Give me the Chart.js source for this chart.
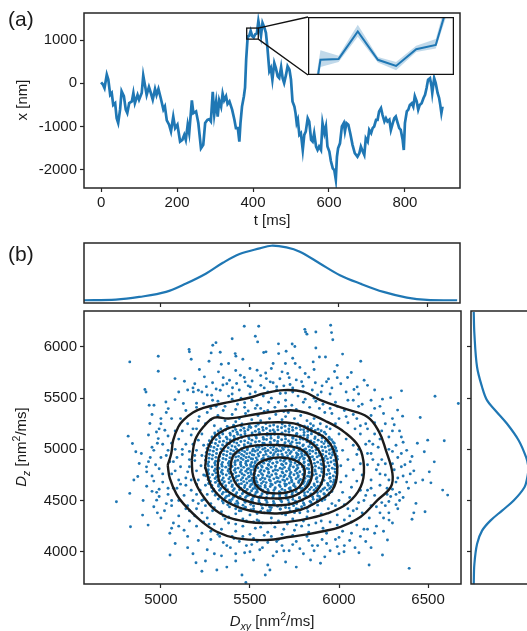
<!DOCTYPE html>
<html><head><meta charset="utf-8">
<script src="https://cdn.jsdelivr.net/npm/chart.js@4/dist/chart.umd.min.js"></script>
<style>
html,body{margin:0;padding:0;background:#fff;width:527px;height:631px;overflow:hidden;position:relative;font-family:'Liberation Sans',Arial,sans-serif;color:#1a1a1a}
canvas{position:absolute}
.lbl{position:absolute;font-size:15px;white-space:nowrap;line-height:1}
.rot{transform:translate(-50%,-50%) rotate(-90deg)}
.ctr{transform:translate(-50%,-50%)}
sub,sup{font-size:70%;line-height:0}
</style></head><body>
<canvas id="ca" style="left:0px;top:0px" width="527" height="230"></canvas>
<canvas id="ci" style="left:308px;top:17px;background:#fff" width="146" height="58"></canvas>
<canvas id="ctop" style="left:0px;top:230px" width="527" height="80"></canvas>
<canvas id="cmain" style="left:0px;top:298px" width="527" height="333"></canvas>
<canvas id="cright" style="left:462px;top:305px" width="65" height="290"></canvas>
<div class="lbl" style="left:8px;top:8px;font-size:21px">(a)</div>
<div class="lbl rot" style="left:21px;top:100px">x [nm]</div>
<div class="lbl ctr" style="left:272px;top:219px">t [ms]</div>
<div class="lbl" style="left:8px;top:243px;font-size:21px">(b)</div>
<div class="lbl rot" style="left:20px;top:447px"><i>D</i><sub><i>z</i></sub> [nm<sup>2</sup>/ms]</div>
<div class="lbl ctr" style="left:272px;top:620px"><i>D</i><sub><i>xy</i></sub> [nm<sup>2</sup>/ms]</div>
<script>
// ---------- panel (a): trajectory ----------
const traceT = [0,5,9,15,19,24,28,32,37,41, 45,50,54,60,65,69,74,81,85,89,
 96,100,107,111,116,120,126,131,136,142, 146,151,157,164,168,173,179,184,190,195,
 201,208,214,219,223,228,232,239,243,250, 256,263,269,274,280,285,289,294,298,303,
 307,311,316,320,324,329,333,338,345,351, 355,360,364,367,371,376,379,382,386,389.8,
 393.8,398,401.8,406,410.1,414.1,418,421,425,430, 434,438,443,447,451,456,460,465,469,474,
 478,482,487,491,496,500,504,509,512,515, 518,522,526,531,535,539,544,548,553,557,
 561,566,570,574,579,583,588,592,596,601, 605,610,614,618,621,624,629,634,639,642,
 646,651,656,662,668,675,680,684,689,693, 697,702,706,711,715,719,724,728,732,737,
 741,746,750,754,759,763,768,772,776,781, 785,789,794,797,800,805,809,813,818,822,
 826,831,835,839,844,849,853,857,861,866, 870,872,877,881,886,890,893,896,899];
const traceX = [23,-30,-110,200,85,-265,-225,-500,-460,-810, -920,-610,-185,-300,-610,-690,-460,-420,-225,-460,
 -270,-380,-225,180,-70,-270,-85,-225,-380,-130, -270,-130,-340,-610,-540,-860,-960,-1115,-770,-1040,
 -960,-1350,-1310,-1195,-1310,-960,-1155,-395,-690,-650, -920,-1505,-1425,-920,-845,-830,-880,-200,-730,-420,
 -770,-395,-540,-240,-395,-300,-480,-420,-610,-845, -1040,-1040,-1350,-920,-540,-300,-100,554,1090,1094,
 1215,1090,1063,1137,1156,1444,1250,1100,1400,1290, 1170,820,280,355,85,470,355,160,120,375,
 120,5,200,395,315,85,-420,-540,-690,-920, -845,-1195,-1155,-1545,-1195,-1115,-810,-885,-1310,-1350,
 -1155,-1465,-1545,-1465,-1545,-920,-1155,-1000,-1465,-1580, -1800,-1970,-2010,-2230,-1700,-1505,-1390,-1000,-920,-1115,
 -920,-960,-1155,-1425,-1620,-1700,-1620,-1465,-1580,-1660, -1275,-1350,-1080,-1155,-1040,-1000,-845,-845,-650,-575,
 -730,-885,-810,-885,-845,-1080,-920,-810,-770,-920, -1040,-1080,-1310,-1545,-920,-650,-610,-500,-460,-540,
 -300,-420,-610,-500,-460,-340,-265,-110,85,120, -70,-225,120,5,-225,-340,-500,-690,-540];
const ticksT = [0,200,400,600,800];
const ticksXnm = [-2000,-1000,0,1000];
// inset (zoomed window of the trajectory, with confidence band)
const insetT  = [382,386.0,389.8,393.8,398.0,401.8,406.0,410.1,414.1];
const insetX  = [554,1090,1094,1215,1090,1063,1137,1156,1444];
const insetLo = [500,1058,1080,1192,1078,1044,1124,1140,1400];
const insetHi = [600,1132,1108,1245,1102,1080,1152,1182,1490];
const insetWinT = [383.4,413.9];
const insetWinX = [1023,1279];

// ---------- panel (b): marginal densities ----------
const kdeDxyGrid = [4559,4748,4879,5030,5143,5256,5350,5444,5557,5623,5708,5783,5896,6009,6122,6254,6386,6499,6669];
const kdeDxyVal  = [0,0.012,0.061,0.153,0.307,0.491,0.687,0.847,0.951,1.0,0.969,0.89,0.675,0.46,0.307,0.153,0.049,0.006,0];
const kdeDzGrid = [6342,6130,5804,5609,5478,5380,5250,5087,4924,4850,4793,4720,4630,4500,4402,4304,4206,4076,3880,3684];
const kdeDzVal  = [0,0.012,0.061,0.153,0.245,0.397,0.611,0.825,0.96,0.995,1.0,0.98,0.93,0.733,0.52,0.306,0.153,0.061,0.012,0];
const ticksDxy = [5000,5500,6000,6500];
const ticksDz = [4000,4500,5000,5500,6000];

// density contour lines (closed)
const contour1 = [[5038,4846],[5058,4960],[5069,5090],[5098,5220],[5126,5285],[5180,5360],[5239,5405],[5389,5464],[5502,5506],[5577,5545],[5690,5578],[5802,5561],[5896,5480],[6028,5399],[6160,5317],[6225,5171],[6263,4992],[6300,4765],[6291,4634],[6216,4504],[6122,4341],[6009,4244],[5896,4195],[5821,4170],[5727,4146],[5596,4114],[5427,4130],[5314,4195],[5220,4309],[5126,4470],[5088,4560],[5050,4716]];
const contour2 = [[5173,4895],[5192,5090],[5239,5220],[5300,5310],[5380,5301],[5558,5350],[5727,5382],[5820,5355],[5934,5268],[6028,5171],[6112,5024],[6140,4829],[6122,4634],[6047,4472],[5934,4374],[5784,4309],[5652,4283],[5483,4293],[5333,4374],[5239,4537],[5182,4732]];
const contour3 = [[5248,4829],[5267,5024],[5323,5155],[5445,5236],[5596,5262],[5746,5253],[5840,5187],[5934,5090],[5981,4927],[5990,4765],[5962,4602],[5878,4488],[5784,4410],[5652,4374],[5502,4400],[5370,4488],[5286,4634]];
const contour4 = [[5317,4813],[5333,4960],[5408,5090],[5558,5146],[5727,5139],[5821,5090],[5896,4960],[5915,4765],[5878,4602],[5784,4500],[5690,4456],[5539,4470],[5408,4553],[5333,4667]];
const contour5 = [[5389,4797],[5408,4943],[5483,5024],[5633,5043],[5770,5012],[5830,4927],[5849,4765],[5821,4634],[5740,4540],[5633,4521],[5520,4545],[5427,4651]];
const contour6 = [[5520,4732],[5540,4850],[5600,4905],[5670,4921],[5750,4895],[5800,4830],[5806,4750],[5780,4640],[5720,4585],[5652,4570],[5575,4590],[5530,4660]];

// scattered (Dxy, Dz) estimates
const scatterOuter = [[5468,6202],[5549,6202],[4985,5909],[4985,5763],[5158,5975],[5160,5952],[5291,6017],[5309,6042],[5282,5942],[5333,5948],[5417,5935],[5421,5910],[5339,5831],[5380,5838],[5530,6104],[5543,6049],[5577,5945],[5590,5952],[5661,5935],[5703,5958],[5737,6029],[5752,6005],[5808,6172],[5820,6125],[5699,5838],[5754,5838],[5630,5838],[5680,5757],[5712,5740],[5216,5779],[5079,5691],[5132,5665],[5244,5708],[5323,5757],[5385,5675],[5446,5724],[5473,5659],[5502,5610],[5540,5773],[5592,5691],[5614,5659],[4961,5430],[5028,5463],[5079,5486],[5126,5447],[5182,5561],[5210,5577],[5285,5528],[5333,5577],[5041,5398],[5060,5300],[5022,5186],[4975,5170],[4985,5105],
[4825,5854],[4910,5584],[4916,5560],[4934,5431],[4938,5253],[4816,5129],[4840,5057],[4859,4976],[4890,4960],[4878,4862],[4848,4700],[4870,4735],[4919,4829],[4750,4488],[4825,4570],[4900,4500],[4897,4358],[4829,4244],[4928,4260],[4976,4504],[4976,4580],[5051,3968],[5197,3893],[5230,3810],[5314,3821],[5370,3850],[5455,3773],[5477,3700],[5586,3773],[5612,3822],[5340,3960],[5420,3910],
[5953,6212],[5958,6140],[5965,6070],[5812,6146],[5870,6146],[5924,5902],[5890,5902],[5855,5854],[6122,5860],[6069,5750],[6141,5675],[6084,5584],[6244,5490],[6290,5505],[6351,5571],[6357,5324],[6329,5383],[6456,5311],[6539,5519],[6670,5448],[6498,5090],[6591,5084],[6440,5060],[6479,4976],[6535,4878],[6507,4780],[6516,4673],[6430,4673],[6470,4700],[6582,4602],[6610,4553],[6432,4472],[6483,4390],[6420,4380],[6410,4318],[6340,4500],[6281,4309],[6272,4114],[6244,3968],[6169,3870],[6394,3838],[6112,3990],[6028,4000],[5990,4050],[5896,3887],[5840,3920],
[5255,5612],[5290,5650],[5348,5628],[5402,5601],[5425,5643],[5468,5702],[5512,5668],[5561,5625],[5588,5745],[5650,5612],[5668,5690],[5725,5633],[5760,5678],[5798,5616],[5830,5705],[5867,5651],[5905,5620],[5941,5688],[5975,5760],[6010,5640],[6048,5702],[6102,5610],[6160,5625],[6200,5580],[5780,5800],[5860,5780],[5990,5820],[5620,5790],[5500,5790],[5420,5770],[5190,5640],[5150,5580],[5100,5560],[5270,5860],[5460,5880],[5870,5990],[6020,5930],[5740,5890],[5660,6030],[5400,6080],[5170,5880],
[5080,4080],[5150,4040],[5210,4110],[5260,4020],[5300,3980],[5350,4090],[5390,4040],[5440,4100],[5470,3990],[5510,4070],[5555,4020],[5600,4090],[5630,3960],[5680,4060],[5720,4010],[5760,4100],[5800,3980],[5850,4060],[5905,4120],[5950,4010],[6060,4110],[6120,4150],[6180,4040],[5700,3900],[5520,3920],[5600,3870],[5760,3850],[5920,3950],[5250,3910],[5180,3980],
[4950,5340],[5000,5250],[4930,5140],[5010,5050],[4960,4990],[5000,4920],[4930,4880],[4990,4810],[4950,4740],[5010,4680],[4920,4640],[4990,4610],[5040,4560],[4960,4440],[5020,4400],[5060,4450],[5000,4330],[5070,4280],[5100,4350],[5130,4210],[5050,4180],[5160,4300],
[6260,5250],[6300,5180],[6350,5120],[6320,5040],[6380,4990],[6330,4920],[6400,4880],[6350,4830],[6420,4790],[6360,4740],[6320,4680],[6390,4620],[6340,4580],[6290,4540],[6260,4450],[6330,4420],[6230,4380],[6210,4250],[6250,4200],[6160,4220],[6300,5300],[6200,5400],[6250,5350]];
const scatterFringe = [[5180,5600],[5230,5560],[5310,5590],[5370,5640],[5440,5580],[5490,5620],[5530,5560],[5580,5600],[5630,5650],[5690,5620],[5740,5600],[5790,5660],[5850,5580],[5900,5560],[5960,5600],[6040,5560],[6080,5480],[6130,5440],[6180,5480],[6230,5420],[5350,5700],[5560,5720],[5810,5740],[5990,5700],[6110,5540],[5260,5530],[5400,5540],[5650,5580],[5720,5700],[5930,5660],
[5030,5360],[4990,5200],[5040,5130],[4980,5060],[5030,4940],[4970,4850],[5010,4760],[4960,4690],[5040,4620],[4990,4540],[5060,4500],[5030,4470],[4950,4590],[4920,4780],[4940,4920],[5000,5300],[4980,4380],[5100,4250],[5060,4230],[4950,5020],
[5150,4150],[5230,4180],[5280,4120],[5330,4150],[5370,4060],[5410,4130],[5480,4060],[5540,4100],[5570,4040],[5650,4100],[5690,4010],[5740,4070],[5780,4030],[5830,4110],[5880,4060],[5930,4080],[5980,4120],[6030,4060],[6090,4040],[6150,4100],[5500,4000],[5650,4000],[5860,4010],[5420,3980],[6000,3980],
[6310,5240],[6280,5120],[6360,5070],[6300,4980],[6350,4960],[6370,4850],[6310,4800],[6400,4760],[6330,4720],[6380,4680],[6300,4610],[6360,4530],[6280,4490],[6320,4460],[6250,4330],[6300,4280],[6200,4180],[6410,4930],[6270,4560],[6340,5180]];
const scatterMid = [[5200,5410],[5240,5445],[5280,5400],[5320,5470],[5360,5420],[5400,5490],[5430,5440],[5470,5410],[5510,5480],[5540,5430],[5575,5520],[5605,5460],[5640,5410],[5670,5545],[5700,5480],[5735,5430],[5770,5520],[5800,5460],[5835,5410],[5870,5470],[5910,5440],[5950,5400],[5990,5420],[6030,5380],[6080,5340],[5450,5500],[5620,5500],[5740,5560],[5860,5500],[5350,5380],[5560,5400],[5700,5420],[5920,5360],[6000,5300],[6100,5300],[6150,5250],
[5110,5300],[5150,5250],[5120,5180],[5170,5140],[5100,5100],[5140,5050],[5080,5000],[5120,4950],[5160,4900],[5070,4880],[5110,4830],[5150,4780],[5060,4760],[5100,4700],[5140,4650],[5170,4600],[5090,4620],[5130,4550],[5180,4500],[5150,4450],[5200,4420],[5230,4380],[5190,4350],[5260,4330],[5160,4980],[5180,5200],[5140,4720],[5210,4470],
[5300,4270],[5340,4220],[5380,4280],[5420,4200],[5460,4250],[5500,4170],[5530,4230],[5570,4280],[5600,4190],[5640,4240],[5680,4170],[5710,4270],[5750,4210],[5790,4250],[5830,4190],[5870,4280],[5910,4230],[5950,4290],[5990,4260],[6030,4310],[6070,4290],[5460,4150],[5620,4150],[5800,4300],[5360,4320],[5270,4270],[5550,4300],
[6160,5200],[6200,5150],[6170,5080],[6220,5020],[6180,4960],[6240,4900],[6160,4850],[6210,4800],[6260,4750],[6180,4700],[6230,4650],[6160,4600],[6200,4550],[6140,4500],[6180,4450],[6100,4420],[6130,4380],[6060,4350],[6240,4480],[6260,4860],[6200,5260],[6090,5200],[6080,4400],[6160,4960],[6230,5100],
[5280,5290],[5320,5330],[5360,5280],[5400,5340],[5440,5300],[5475,5350],[5510,5290],[5545,5330],[5580,5370],[5610,5300],[5645,5340],[5680,5290],[5715,5360],[5750,5300],[5785,5330],[5820,5280],[5860,5300],[5895,5250],[5930,5220],[5420,5270],[5560,5280],[5700,5320],[5840,5250],[5250,5250],[5300,5230],[5600,5380],[5490,5375],
[5200,5200],[5230,5150],[5210,5090],[5240,5040],[5200,4990],[5230,4940],[5190,4890],[5225,4840],[5200,4790],[5240,4750],[5210,4700],[5250,4650],[5220,4600],[5260,4560],[5240,4510],[5280,4470],[5300,4430],[5250,4450],[5200,4660],[5190,4940],
[5340,4390],[5380,4340],[5420,4370],[5460,4320],[5500,4360],[5540,4310],[5580,4380],[5620,4330],[5660,4300],[5700,4360],[5740,4320],[5780,4380],[5820,4340],[5860,4400],[5900,4370],[5940,4420],[5980,4450],[5440,4400],[5600,4400],[5760,4420],[5520,4290],
[6000,5150],[6040,5100],[6080,5040],[6020,4990],[6100,4950],[6050,4900],[6120,4860],[6010,4840],[6080,4800],[6130,4750],[6040,4740],[6100,4690],[6010,4680],[6070,4630],[6120,4600],[6020,4580],[6060,4530],[6000,4500],[6030,4460],[5950,5200],[5980,5250],[6110,5000],[5960,4470],
[5215,5320],[5260,5360],[5310,5420],[5420,5390],[5470,5455],[5530,5400],[5660,5460],[5690,5370],[5760,5390],[5810,5490],[5890,5400],[5960,5350],[6050,5260],[6120,5150],[6150,5050],[6190,4900],[6230,4760],[6180,4620],[6150,4550],[6110,4480],[6050,4420],[5990,4360],[5900,4300],[5830,4260],[5760,4260],[5690,4220],[5620,4280],[5560,4240],[5480,4300],[5420,4270],[5350,4350],[5290,4400],[5230,4500],[5200,4560],[5170,4700],[5160,4830],[5180,5050],[5210,5280],[5120,5000],[5090,4920],[5080,4790],[5110,4660],[5160,4400],[5240,4290],[5320,4170],[5400,4150],[5520,4130],[5580,4160],[5660,4120],[5740,4160],[5820,4150],[5930,4180],[6020,4200],[6100,4260],[6170,4330],[6210,4440],[6270,4620],[6280,4700],[6220,4850],[6190,5050],[6120,5230],[6040,5320],[5980,5460],[5880,5530],[5800,5560],[5700,5550],[5600,5560],[5500,5540],[5380,5520],[5290,5480],[5200,5450],[5140,5380],[5080,5180],[5060,5060],[5040,4990],[5050,4880],[5070,4620],[5100,4500],[5140,4420],[5200,4250],[5280,4200],[6000,4140],[6070,4180],[6140,4220],[6280,4380],[6320,4560],[6300,4860],[6280,5000],[6240,5180],[6180,5330],[6110,5420],[6050,5480],[5950,5540]];
const scatterCore = [[5408,5236],[5455,5248],[5497,5231],[5546,5244],[5589,5252],[5633,5238],[5681,5247],[5722,5233],[5768,5250],[5806,5226],
[5336,5198],[5381,5209],[5420,5193],[5466,5206],[5505,5213],[5549,5195],[5592,5204],[5631,5190],[5677,5211],[5718,5199],[5760,5207],[5801,5192],[5845,5203],[5882,5196],
[5302,5160],[5344,5171],[5388,5157],[5427,5168],[5471,5175],[5512,5159],[5553,5166],[5597,5154],[5638,5170],[5680,5161],[5719,5172],[5763,5156],[5804,5165],[5846,5174],[5888,5158],[5918,5167],
[5287,5121],[5326,5133],[5367,5118],[5410,5129],[5449,5137],[5492,5120],[5533,5128],[5574,5116],[5617,5134],[5659,5124],[5698,5131],[5741,5119],[5783,5129],[5825,5136],[5866,5121],[5907,5130],[5944,5119],
[5272,5084],[5310,5095],[5351,5080],[5389,5092],[5431,5099],[5470,5083],[5511,5090],[5552,5078],[5593,5096],[5637,5086],[5678,5093],[5717,5081],[5759,5092],[5799,5099],[5842,5082],[5883,5090],[5924,5079],[5958,5094],
[5265,5046],[5306,5057],[5346,5043],[5385,5055],[5426,5061],[5468,5045],[5505,5052],[5543,5040],[5580,5058],[5617,5048],[5654,5055],[5690,5043],[5727,5054],[5763,5061],[5800,5044],[5838,5052],[5876,5041],[5915,5056],[5952,5047],[5973,5059],
[5259,5008],[5298,5019],[5337,5005],[5378,5016],[5417,5023],[5452,5007],[5486,5014],[5518,5002],[5551,5020],[5584,5010],[5616,5017],[5649,5005],[5682,5016],[5714,5023],[5747,5006],[5780,5014],[5813,5003],[5847,5018],[5884,5009],[5922,5020],[5959,5004],[5982,5013],
[5255,4970],[5294,4981],[5334,4967],[5372,4978],[5408,4985],[5440,4969],[5470,4976],[5500,4964],[5529,4982],[5558,4972],[5587,4979],[5616,4967],[5645,4978],[5674,4985],[5703,4968],[5732,4976],[5761,4965],[5790,4980],[5820,4971],[5852,4982],[5890,4966],[5928,4977],[5965,4970],[5987,4984],
[5252,4932],[5290,4943],[5330,4929],[5369,4940],[5404,4947],[5436,4931],[5465,4938],[5494,4926],[5522,4944],[5549,4934],[5576,4941],[5603,4929],[5630,4940],[5657,4947],[5684,4930],[5711,4938],[5738,4927],[5765,4942],[5792,4933],[5820,4944],[5851,4928],[5888,4939],[5926,4933],[5963,4945],[5989,4930],
[5250,4894],[5288,4905],[5327,4891],[5365,4902],[5400,4909],[5432,4893],[5461,4900],[5489,4888],[5515,4906],[5541,4896],[5567,4903],[5593,4891],[5619,4902],[5645,4909],[5671,4892],[5697,4900],[5723,4889],[5749,4904],[5775,4895],[5801,4906],[5828,4890],[5860,4901],[5897,4895],[5935,4907],[5972,4892],[5991,4903],
[5263,4856],[5302,4867],[5341,4853],[5379,4864],[5415,4871],[5447,4855],[5476,4862],[5503,4850],[5528,4868],[5553,4858],[5578,4865],[5603,4853],[5628,4864],[5653,4871],[5678,4854],[5703,4862],[5728,4851],[5753,4866],[5778,4857],[5803,4868],[5830,4852],[5862,4863],[5899,4857],[5937,4869],[5975,4854],
[5249,4818],[5287,4829],[5326,4815],[5364,4826],[5400,4833],[5434,4817],[5465,4824],[5493,4812],[5519,4830],[5544,4820],[5569,4827],[5594,4815],[5619,4826],[5644,4833],[5669,4816],[5694,4824],[5719,4813],[5744,4828],[5769,4819],[5794,4830],[5820,4814],[5850,4825],[5887,4819],[5925,4831],[5962,4816],[5990,4828],
[5262,4780],[5300,4791],[5339,4777],[5377,4788],[5412,4795],[5445,4779],[5476,4786],[5504,4774],[5530,4792],[5555,4782],[5580,4789],[5605,4777],[5630,4788],[5655,4795],[5680,4778],[5705,4786],[5730,4775],[5755,4790],[5780,4781],[5805,4792],[5833,4776],[5866,4787],[5903,4781],[5941,4793],[5978,4778],
[5251,4742],[5290,4753],[5329,4739],[5367,4750],[5403,4757],[5437,4741],[5468,4748],[5496,4736],[5522,4754],[5547,4744],[5572,4751],[5597,4739],[5622,4750],[5647,4757],[5672,4740],[5697,4748],[5722,4737],[5747,4752],[5772,4743],[5797,4754],[5824,4738],[5856,4749],[5893,4743],[5931,4755],[5968,4740],
[5265,4704],[5304,4715],[5343,4701],[5381,4712],[5417,4719],[5450,4703],[5480,4710],[5508,4698],[5534,4716],[5559,4706],[5584,4713],[5609,4701],[5634,4712],[5659,4719],[5684,4702],[5709,4710],[5734,4699],[5759,4714],[5784,4705],[5809,4716],[5838,4700],[5872,4711],[5910,4705],[5948,4717],[5972,4702],
[5268,4666],[5306,4677],[5345,4663],[5383,4674],[5419,4681],[5452,4665],[5483,4672],[5512,4660],[5539,4678],[5565,4668],[5591,4675],[5617,4663],[5643,4674],[5669,4681],[5695,4664],[5721,4672],[5747,4661],[5773,4676],[5799,4667],[5826,4678],[5860,4662],[5898,4673],[5936,4667],[5970,4679],
[5284,4628],[5323,4639],[5361,4625],[5399,4636],[5435,4643],[5469,4627],[5500,4634],[5530,4622],[5558,4640],[5586,4630],[5614,4637],[5642,4625],[5670,4636],[5698,4643],[5726,4626],[5754,4634],[5782,4623],[5811,4638],[5845,4629],[5882,4640],[5920,4624],[5956,4635],
[5290,4590],[5329,4601],[5367,4587],[5405,4598],[5441,4605],[5476,4589],[5509,4596],[5541,4584],[5572,4602],[5603,4592],[5634,4599],[5665,4587],[5696,4598],[5727,4605],[5758,4588],[5790,4596],[5824,4585],[5860,4600],[5897,4591],[5934,4602],[5960,4588],
[5305,4552],[5344,4563],[5382,4549],[5420,4560],[5457,4567],[5493,4551],[5528,4558],[5562,4546],[5597,4564],[5632,4554],[5667,4561],[5702,4549],[5737,4560],[5772,4567],[5807,4550],[5843,4558],[5880,4547],[5917,4562],[5942,4553],
[5322,4514],[5361,4525],[5399,4511],[5437,4522],[5475,4529],[5513,4513],[5551,4520],[5589,4508],[5627,4526],[5665,4516],[5703,4523],[5741,4511],[5779,4522],[5817,4529],[5855,4512],[5893,4520],[5920,4509],
[5350,4476],[5391,4487],[5432,4473],[5473,4484],[5514,4491],[5555,4475],[5596,4482],[5637,4470],[5678,4488],[5719,4478],[5760,4485],[5801,4473],[5842,4484],[5880,4491],
[5385,4438],[5430,4449],[5475,4435],[5520,4446],[5565,4453],[5610,4437],[5655,4444],[5700,4432],[5745,4450],[5790,4440],[5835,4447],
[5450,4400],[5505,4411],[5560,4397],[5615,4408],[5670,4415],[5725,4399],[5780,4406],[5825,4394],
[5540,4374],[5610,4385],[5680,4371],[5750,4382],
[5545,4955],[5590,4951],[5635,4958],[5680,4953],[5725,4960],[5770,4950],
[5535,4917],[5575,4913],[5615,4920],[5655,4915],[5695,4922],[5735,4912],[5780,4919],
[5530,4879],[5570,4875],[5610,4882],[5650,4877],[5690,4884],[5730,4874],[5770,4881],[5805,4876],
[5525,4841],[5565,4837],[5605,4844],[5645,4839],[5685,4846],[5725,4836],[5765,4843],[5805,4838],
[5522,4803],[5562,4799],[5602,4806],[5642,4801],[5682,4808],[5722,4798],[5762,4805],[5802,4800],
[5525,4765],[5565,4761],[5605,4768],[5645,4763],[5685,4770],[5725,4760],[5765,4767],[5805,4762],
[5530,4727],[5570,4723],[5610,4730],[5650,4725],[5690,4732],[5730,4722],[5770,4729],[5805,4724],
[5535,4689],[5575,4685],[5615,4692],[5655,4687],[5695,4694],[5735,4684],[5775,4691],[5805,4686],
[5545,4651],[5585,4647],[5625,4654],[5665,4649],[5705,4656],[5745,4646],[5785,4653],
[5560,4613],[5600,4609],[5640,4616],[5680,4611],[5720,4618],[5760,4608]];
const scatterFill = [[5372,5224],[5413,5216],[5452,5228],[5494,5219],[5533,5225],[5571,5213],[5612,5229],[5655,5220],[5697,5226],[5739,5215],[5781,5223],[5824,5218],[5856,5230],
[5322,5180],[5363,5189],[5404,5178],[5448,5186],[5489,5192],[5530,5177],[5574,5187],[5613,5181],[5657,5190],[5699,5179],[5740,5186],[5784,5193],[5825,5176],[5866,5185],[5900,5181],
[5305,5142],[5347,5150],[5390,5139],[5431,5148],[5472,5153],[5513,5141],[5554,5149],[5596,5137],[5638,5146],[5679,5152],[5720,5140],[5762,5147],[5803,5138],[5845,5151],[5886,5143],[5926,5149],
[5290,5104],[5331,5112],[5372,5101],[5413,5109],[5454,5115],[5495,5103],[5536,5110],[5577,5099],[5618,5108],[5659,5114],[5700,5102],[5741,5109],[5782,5100],[5823,5113],[5864,5105],[5905,5111],[5946,5103],
[5285,5066],[5329,5074],[5370,5063],[5410,5071],[5449,5077],[5489,5065],[5531,5072],[5572,5061],[5614,5070],[5656,5076],[5697,5064],[5737,5071],[5778,5062],[5820,5075],[5860,5067],[5902,5073],[5940,5065],[5966,5072],
[5280,5028],[5320,5036],[5359,5025],[5399,5033],[5437,5039],[5470,5027],[5502,5034],[5535,5023],[5568,5032],[5600,5038],[5633,5026],[5666,5033],[5698,5024],[5731,5037],[5764,5029],[5797,5035],[5830,5027],[5866,5034],[5903,5026],[5941,5033],[5975,5028],
[5275,4990],[5314,4998],[5354,4987],[5393,4995],[5425,5001],[5456,4989],[5485,4996],[5514,4985],[5543,4994],[5572,5000],[5601,4988],[5630,4995],[5659,4986],[5688,4999],[5717,4991],[5746,4997],[5775,4989],[5805,4996],[5836,4988],[5871,4995],[5909,4987],[5946,4994],[5978,4990],
[5272,4952],[5312,4960],[5351,4949],[5390,4957],[5423,4963],[5453,4951],[5482,4958],[5513,4947],[5790,4958],[5808,4948],[5836,4956],[5870,4962],[5908,4950],[5946,4957],[5980,4953],
[5270,4914],[5309,4922],[5349,4911],[5387,4919],[5420,4925],[5450,4913],[5478,4920],[5506,4909],[5760,4921],[5805,4913],[5838,4920],[5877,4926],[5915,4912],[5954,4919],[5985,4915],
[5268,4876],[5307,4884],[5346,4873],[5384,4881],[5418,4887],[5448,4875],[5478,4882],[5510,4871],[5840,4882],[5880,4875],[5917,4888],[5955,4877],[5985,4884],
[5267,4838],[5305,4846],[5344,4835],[5382,4843],[5417,4849],[5450,4837],[5481,4844],[5505,4833],[5830,4846],[5868,4836],[5906,4849],[5944,4839],[5980,4845],
[5266,4800],[5306,4808],[5344,4797],[5381,4805],[5418,4811],[5452,4799],[5486,4806],[5505,4795],[5830,4808],[5865,4798],[5902,4811],[5940,4801],[5976,4807],
[5268,4762],[5308,4770],[5347,4759],[5385,4767],[5420,4773],[5455,4761],[5488,4768],[5508,4757],[5832,4770],[5872,4760],[5910,4773],[5948,4763],[5985,4769],
[5272,4724],[5312,4732],[5350,4721],[5388,4729],[5424,4735],[5459,4723],[5492,4730],[5512,4719],[5835,4732],[5876,4722],[5913,4735],[5950,4725],[5984,4731],
[5278,4686],[5318,4694],[5356,4683],[5394,4691],[5430,4697],[5465,4685],[5497,4692],[5518,4681],[5830,4694],[5878,4684],[5916,4697],[5953,4687],[5980,4693],
[5286,4648],[5325,4656],[5364,4645],[5401,4653],[5437,4659],[5472,4647],[5505,4654],[5528,4643],[5820,4656],[5862,4646],[5901,4659],[5940,4649],[5968,4655],
[5296,4610],[5336,4618],[5374,4607],[5412,4615],[5449,4621],[5485,4609],[5518,4616],[5540,4605],[5795,4618],[5835,4608],[5872,4621],[5910,4611],[5948,4617],
[5310,4572],[5350,4580],[5388,4569],[5426,4577],[5463,4583],[5499,4571],[5534,4578],[5568,4567],[5602,4580],[5636,4570],[5670,4577],[5704,4566],[5738,4579],[5772,4569],[5806,4576],[5842,4565],[5879,4578],[5916,4568],[5946,4575],
[5330,4534],[5369,4542],[5407,4531],[5445,4539],[5482,4545],[5519,4533],[5556,4540],[5593,4529],[5630,4538],[5667,4544],[5704,4532],[5741,4539],[5778,4530],[5815,4543],[5852,4535],[5889,4541],[5922,4533],
[5345,4496],[5386,4504],[5427,4493],[5468,4501],[5509,4507],[5550,4495],[5591,4502],[5632,4491],[5673,4500],[5714,4506],[5755,4494],[5796,4501],[5837,4492],[5878,4505],[5905,4497],
[5375,4458],[5418,4466],[5461,4455],[5504,4463],[5547,4469],[5590,4457],[5633,4464],[5676,4453],[5719,4462],[5762,4468],[5805,4456],[5848,4463],[5880,4455],
[5420,4420],[5470,4428],[5520,4417],[5570,4425],[5620,4431],[5670,4419],[5720,4426],[5770,4415],[5820,4424]];

// ---------- helpers ----------
const FONT = "'Liberation Sans', Arial, sans-serif";
const INK = '#262626';
const BLUE = '#1f77b4';
const INSET = {left:308, top:17, w:146, h:58};
Chart.defaults.font.family = FONT;
Chart.defaults.animation = false;
Chart.defaults.events = [];
Chart.defaults.plugins.legend.display = false;
Chart.defaults.plugins.tooltip.enabled = false;

function tickFont(extra) {
  return Object.assign({font: {family: FONT, size: 15}, color: '#1a1a1a', padding: 3, autoSkip: false, maxRotation: 0, minRotation: 0,
    callback: v => String(v)}, extra || {});
}
function axis(min, max, tickVals, extra) {
  return Object.assign({
    type: 'linear', min: min, max: max,
    afterBuildTicks: s => { s.ticks = tickVals.map(v => ({value: v})); },
    grid: {display: true, drawOnChartArea: false, drawTicks: true, tickLength: 4, tickColor: INK, tickWidth: 1.2},
    border: {display: false},
    ticks: tickFont()
  }, extra || {});
}
const frame = {id: 'frame', afterDatasetsDraw(c, args, o) {
  const a = c.chartArea, ctx = c.ctx;
  ctx.save(); ctx.strokeStyle = o.color || INK; ctx.lineWidth = o.width || 1.5;
  if (o.openRight) {
    ctx.beginPath(); ctx.moveTo(c.width + 2, a.top); ctx.lineTo(a.left, a.top); ctx.lineTo(a.left, a.bottom); ctx.lineTo(c.width + 2, a.bottom); ctx.stroke();
  } else {
    ctx.strokeRect(a.left, a.top, a.right - a.left, a.bottom - a.top);
  }
  ctx.restore();
}};
const pts = (xs, ys) => xs.map((v, i) => ({x: v, y: ys[i]}));
const pairs = arr => arr.map(p => ({x: p[0], y: p[1]}));

// ---------- panel (a) ----------
const insetMark = {id: 'insetMark', afterDatasetsDraw(c) {
  const xs = c.scales.x, ys = c.scales.y, ctx = c.ctx;
  const x0 = xs.getPixelForValue(insetWinT[0]), x1 = xs.getPixelForValue(insetWinT[1]);
  const y0 = ys.getPixelForValue(insetWinX[1]), y1 = ys.getPixelForValue(insetWinX[0]);
  ctx.save(); ctx.strokeStyle = '#111'; ctx.lineWidth = 1.3;
  ctx.strokeRect(x0, y0, x1 - x0, y1 - y0);
  ctx.beginPath(); ctx.moveTo(x1, y0); ctx.lineTo(INSET.left, INSET.top);
  ctx.moveTo(x1, y1); ctx.lineTo(INSET.left, INSET.top + INSET.h); ctx.stroke(); ctx.restore();
}};
new Chart(document.getElementById('ca'), {
  type: 'scatter',
  data: {datasets: [{data: pts(traceT, traceX), showLine: true, borderColor: BLUE, borderWidth: 2.7, pointRadius: 0, tension: 0}]},
  options: {responsive: false, layout: {padding: {top: 13, right: 67, left: 0, bottom: 0}},
    scales: {
      x: axis(-45, 945, ticksT, {afterFit: s => { s.height = 42; }, ticks: tickFont({padding: 2})}),
      y: axis(-2425, 1628, ticksXnm, {afterFit: s => { s.width = 84; }})
    }},
  plugins: [frame, insetMark]
});
new Chart(document.getElementById('ci'), {
  type: 'scatter',
  data: {datasets: [
    {data: pts(insetT, insetX), showLine: true, borderColor: BLUE, borderWidth: 2, pointRadius: 0, tension: 0, order: 0},
    {data: pts(insetT, insetHi), showLine: true, borderWidth: 0, borderColor: 'rgba(0,0,0,0)', pointRadius: 0, tension: 0, fill: '+1', backgroundColor: 'rgba(31,119,180,0.28)', order: 1},
    {data: pts(insetT, insetLo), showLine: true, borderWidth: 0, borderColor: 'rgba(0,0,0,0)', pointRadius: 0, tension: 0, order: 1}
  ]},
  options: {responsive: false, layout: {padding: 0},
    scales: {x: {type: 'linear', min: insetWinT[0], max: insetWinT[1], display: false},
             y: {type: 'linear', min: insetWinX[0], max: insetWinX[1], display: false}},
    plugins: {frame: {color: '#111', width: 2.5}}},
  plugins: [frame]
});

// ---------- panel (b) top marginal ----------
new Chart(document.getElementById('ctop'), {
  type: 'scatter',
  data: {datasets: [{data: pts(kdeDxyGrid, kdeDxyVal), showLine: true, borderColor: BLUE, borderWidth: 2.2, pointRadius: 0, tension: 0.35}]},
  options: {responsive: false, layout: {padding: {top: 13, right: 67, left: 84, bottom: 0}},
    scales: {
      x: axis(4568, 6685, ticksDxy, {afterFit: s => { s.height = 7; }, ticks: {display: false}}),
      y: {type: 'linear', min: -0.05, max: 1.05, display: false}
    }},
  plugins: [frame]
});

// ---------- panel (b) joint scatter + contours ----------
const contourSet = [contour1, contour2, contour3, contour4, contour5, contour6].map(c => ({
  data: pairs(c.concat([c[0]])), showLine: true, borderColor: '#1c1c1c', borderWidth: 2.4, pointRadius: 0, tension: 0.4, order: 0
}));
new Chart(document.getElementById('cmain'), {
  type: 'scatter',
  data: {datasets: contourSet.concat([{
    data: pairs(scatterOuter.concat(scatterFringe, scatterMid, scatterCore, scatterFill)), pointRadius: 1.45, borderWidth: 0, backgroundColor: BLUE, pointStyle: 'circle', order: 1
  }])},
  options: {responsive: false, layout: {padding: {top: 13, right: 66, left: 0, bottom: 0}},
    scales: {
      x: axis(4568, 6685, ticksDxy, {afterFit: s => { s.height = 47; }}),
      y: axis(3685, 6351, ticksDz, {afterFit: s => { s.width = 84; }})
    }},
  plugins: [frame]
});

// ---------- panel (b) right marginal (cut by the figure edge) ----------
new Chart(document.getElementById('cright'), {
  type: 'scatter',
  data: {datasets: [{data: pts(kdeDzVal, kdeDzGrid), showLine: true, borderColor: BLUE, borderWidth: 2.2, pointRadius: 0, tension: 0.35, clip: false}]},
  options: {responsive: false, layout: {padding: {top: 6, right: 8, left: 0, bottom: 11}},
    scales: {
      x: {type: 'linear', min: -0.05, max: 0.83, display: false},
      y: axis(3685, 6351, ticksDz, {afterFit: s => { s.width = 9; }, ticks: {display: false}})
    },
    plugins: {frame: {openRight: true}}},
  plugins: [frame]
});
</script>
</body></html>
